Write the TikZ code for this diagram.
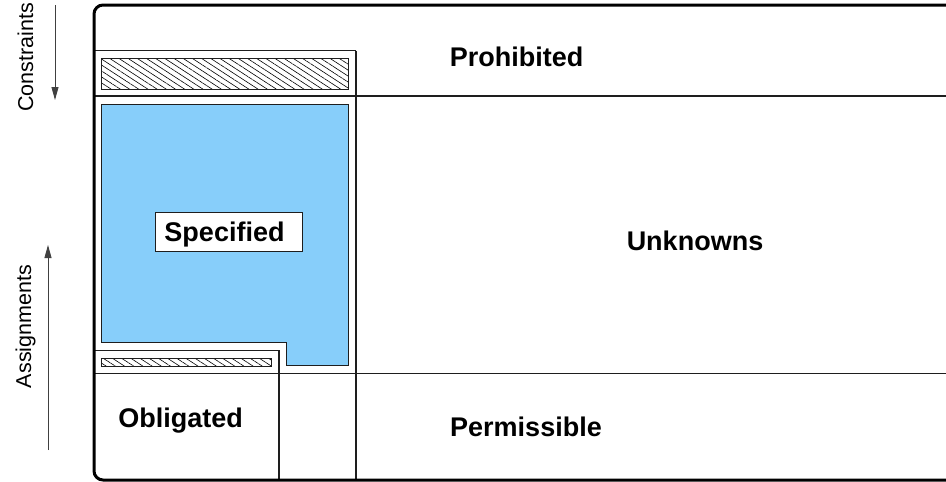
\documentclass[tikz,border=0pt]{standalone}
\usepackage{fontspec}
\setmainfont{Liberation Sans}
\usetikzlibrary{arrows.meta,patterns.meta}
\definecolor{specblue}{RGB}{135,206,250}
\definecolor{linegray}{RGB}{30,30,30}
\tikzset{
  thin line/.style={draw=linegray,line width=1.2pt},
  hatchbox/.style={draw=linegray,line width=0.8pt,pattern={Lines[angle=-33,distance=5pt,line width=0.6pt]}},
  biglabel/.style={font=\fontsize{27}{30}\selectfont\bfseries,anchor=base,inner sep=0pt},
  sidelabel/.style={font=\fontsize{21.5}{24}\selectfont,anchor=base,rotate=90,inner sep=0pt},
  sidearrow/.style={draw=black!75,line width=0.9pt,-{Triangle[length=13pt,width=7pt]}}
}
\begin{document}
\begin{tikzpicture}[x=1pt,y=-1pt]
\useasboundingbox (0,0) rectangle (946,482);
% blue specified region
\fill[specblue] (101.7,104) -- (348,104) -- (348,365.7) -- (286.7,365.7) -- (286.7,342.7) -- (101.7,342.7) -- cycle;
\draw[thin line,line width=1pt] (101.7,104) -- (348,104) -- (348,365.7) -- (286.7,365.7) -- (286.7,342.7) -- (101.7,342.7) -- cycle;
% hatched boxes
\path[hatchbox] (101.7,58.3) rectangle (348,89);
\path[hatchbox] (101.7,358.3) rectangle (271.7,366);
% inner lines
\draw[thin line] (94,50.7) -- (356,50.7);
\draw[thin line] (356,50.7) -- (356,480);
\draw[thin line] (94,96) -- (950,96);
\draw[thin line] (94,350.7) -- (279,350.7) -- (279,480);
\draw[thin line] (94,373.3) -- (950,373.3);
% outer frame
\draw[black,line width=3pt,rounded corners=9pt] (960,5) -- (94,5) -- (94,480) -- (960,480);
% labels
\node[draw=linegray,line width=1pt,fill=white,minimum width=147.3pt,minimum height=38.7pt,inner sep=0pt] (specbox) at (228.65,231.65) {};
\node[biglabel] (specified) at (224.5,241) {Specified};
\node[biglabel] (prohibited) at (516.7,66) {Prohibited};
\node[biglabel] (unknowns) at (695,250) {Unknowns};
\node[biglabel] (permissible) at (526,436) {Permissible};
\node[biglabel] (obligated) at (180.7,427.5) {Obligated};
% side labels and arrows
\node[sidelabel] (constraints) at (33,57.5) {Constraints};
\node[sidelabel] (assignments) at (31,326.5) {Assignments};
\coordinate (cA) at (55,5);
\coordinate (cB) at (55,100);
\coordinate (aA) at (48,450);
\coordinate (aB) at (48,245);
\draw[sidearrow] (cA) -- (cB);
\draw[sidearrow] (aA) -- (aB);
\end{tikzpicture}
\end{document}
